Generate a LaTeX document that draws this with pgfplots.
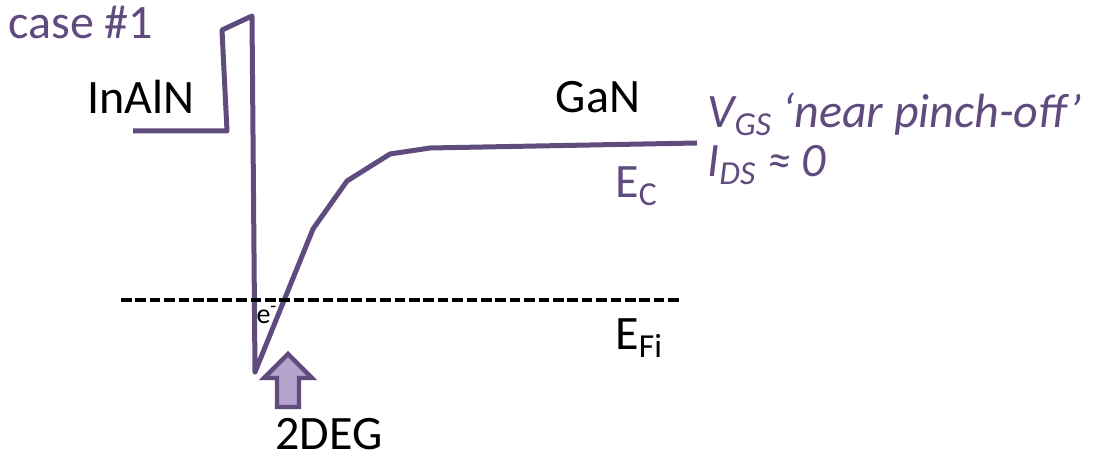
\documentclass[border=0pt]{standalone}
\usepackage{fontspec}
\setmainfont{Carlito}
\usepackage{pgfplots}
\pgfplotsset{compat=1.18}
\definecolor{bandpurple}{RGB}{95,75,125}
\definecolor{arrowfill}{RGB}{180,164,204}
\tikzset{lbl/.style={font=\fontsize{24}{28}\selectfont, inner sep=0pt}}
\begin{document}
\begin{tikzpicture}
\begin{axis}[
    width=555pt, height=230pt, scale only axis,
    xmin=0, xmax=1110, ymin=0, ymax=460,
    hide axis, clip=false,
  ]
% frame for the bounding box
\addplot[draw=none] coordinates {(0,0) (1110,460)};

% conduction band edge
\addplot[bandpurple, line width=2.5pt, line join=round, mark=none] coordinates {
  (133,329) (227,329) (222,430) (252,444) (255,88) (313,231)
  (347,279) (390,306) (430,312) (697,317)};

% Fermi level
\addplot[black, line width=1.6pt, dash pattern=on 5.3pt off 1.9pt, mark=none] coordinates {
  (121,160) (680,160)};

% 2DEG arrow
\addplot[draw=bandpurple, fill=arrowfill, line width=2.2pt, line join=miter, mark=none] coordinates {
  (288,106) (312,82) (299,82) (299,53) (277,53) (277,82) (264,82)} -- cycle;

\node[lbl, anchor=west, text=bandpurple] at (axis cs:8,438) {case \#1};
\node[lbl] at (axis cs:141,363) {InAlN};
\node[lbl] at (axis cs:598,363) {GaN};
\node[lbl, anchor=base west, text=bandpurple] at (axis cs:707,332) {\itshape V\textsubscript{GS} ‘near pinch-off’};
\node[lbl, anchor=base west, text=bandpurple] at (axis cs:707,283) {\itshape I\textsubscript{DS} ≈ 0};
\node[lbl, anchor=base west, text=bandpurple] at (axis cs:615,262) {E\textsubscript{C}};
\node[lbl, anchor=base west] at (axis cs:615,110) {E\textsubscript{Fi}};
\node[lbl, anchor=base west] at (axis cs:275,10) {2DEG};
\node[inner sep=0pt, font=\fontsize{14}{16}\selectfont] at (axis cs:267,145) {e\textsuperscript{-}};
\end{axis}
\end{tikzpicture}
\end{document}
